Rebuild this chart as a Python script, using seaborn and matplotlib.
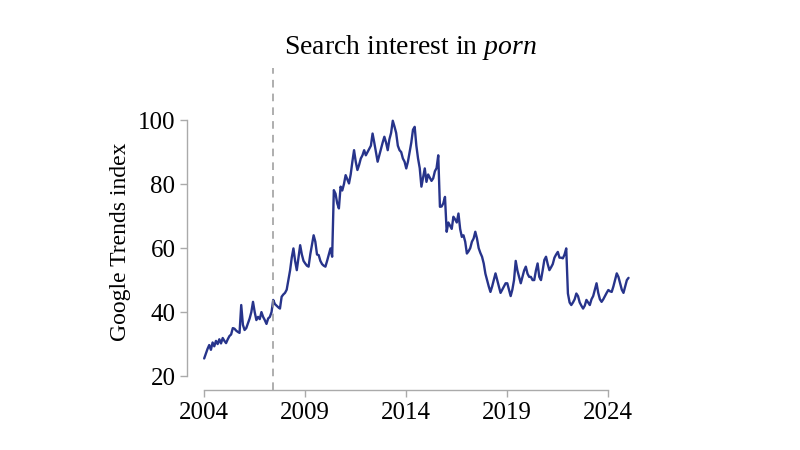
import numpy as np
import pandas as pd
import seaborn as sns
import matplotlib.pyplot as plt

# Monthly Google Trends index, Jan 2004 - Jan 2025
interest = [
    25.5, 27.0, 28.5, 29.7, 28.2, 30.5, 29.3, 31.0, 30.0, 31.5, 30.2, 31.9,  # 2004
    31.0, 30.3, 31.5, 32.5, 33.0, 35.0, 34.8, 34.2, 33.8, 33.5, 42.2, 36.0,  # 2005
    34.4, 35.0, 36.5, 38.0, 40.0, 43.2, 40.0, 37.5, 38.5, 37.8, 40.0, 38.5,  # 2006
    37.5, 36.3, 38.0, 38.5, 40.0, 43.8, 42.5, 42.0, 41.5, 41.1, 44.8, 45.5,  # 2007
    46.0, 47.0, 50.0, 53.0, 57.0, 59.9, 56.0, 53.1, 57.0, 60.9, 58.0, 56.0,  # 2008
    55.2, 54.5, 54.2, 58.0, 61.0, 64.0, 62.0, 58.0, 57.8, 56.0, 55.0, 54.5,  # 2009
    54.2, 56.0, 58.0, 59.9, 57.3, 78.1, 77.0, 74.0, 72.4, 79.2, 78.0, 80.0,  # 2010
    82.8, 81.5, 80.2, 83.0, 87.0, 90.6, 87.0, 84.4, 86.0, 88.0, 89.0, 90.6,  # 2011
    89.0, 90.0, 91.0, 92.0, 95.8, 93.0, 90.0, 87.0, 89.0, 91.0, 93.0, 94.8,  # 2012
    93.0, 90.6, 94.0, 96.0, 99.8, 98.0, 96.0, 92.0, 90.6, 90.0, 88.0, 87.0,  # 2013
    84.9, 87.0, 90.0, 93.0, 97.0, 97.9, 92.0, 88.0, 85.0, 79.2, 82.0, 84.9,  # 2014
    80.7, 83.0, 82.0, 81.0, 81.8, 84.0, 85.0, 89.0, 72.9, 73.0, 74.0, 76.0,  # 2015
    65.1, 68.0, 67.0, 66.0, 69.8, 69.0, 68.0, 70.8, 66.0, 63.5, 64.0, 62.0,  # 2016
    58.3, 59.0, 60.0, 62.0, 63.0, 65.1, 63.0, 60.0, 58.5, 57.3, 55.2, 52.0,  # 2017
    50.0, 48.0, 46.3, 48.0, 50.0, 52.1, 50.0, 48.0, 46.0, 47.0, 48.0, 49.0,  # 2018
    49.0, 47.0, 45.0, 47.0, 50.0, 56.0, 53.0, 51.0, 49.0, 51.0, 53.0, 54.2,  # 2019
    52.0, 51.0, 51.0, 50.0, 50.0, 53.0, 55.2, 51.0, 50.0, 53.0, 56.3, 57.3,  # 2020
    55.0, 53.1, 54.0, 55.0, 57.0, 58.0, 58.8, 57.0, 57.0, 56.8, 58.0, 59.9,  # 2021
    45.8, 43.0, 42.2, 43.0, 44.0, 45.8, 45.0, 43.0, 42.0, 41.1, 42.0, 43.8,  # 2022
    43.0, 42.2, 44.0, 45.0, 47.0, 49.0, 46.0, 44.0, 43.2, 44.0, 45.0, 46.0,  # 2023
    46.9, 46.5, 46.3, 48.0, 50.0, 52.1, 51.0, 49.0, 47.0, 46.0, 48.0, 50.0,  # 2024
    50.7,                                                                    # 2025
]
start_year = 2004
year_ticks = [2004, 2009, 2014, 2019, 2024]
index_ticks = [20, 40, 60, 80, 100]
event_year = 2007.4  # dashed marker

df = pd.DataFrame({
    "year": start_year + np.arange(len(interest)) / 12,
    "interest": interest,
})

sns.set_theme(style="ticks")
plt.rcParams["font.family"] = ["Liberation Serif", "DejaVu Serif"]
plt.rcParams["text.color"] = "black"
plt.rcParams["axes.labelcolor"] = "black"
plt.rcParams["mathtext.fontset"] = "custom"
plt.rcParams["mathtext.rm"] = "Liberation Serif"
plt.rcParams["mathtext.it"] = "Liberation Serif:italic"

fig = plt.figure(figsize=(8, 4.5), dpi=100)
ax = fig.add_axes([0.234, 0.133, 0.559, 0.716])

sns.lineplot(data=df, x="year", y="interest", color="#27348b", linewidth=1.7, ax=ax)
ax.axvline(event_year, color="#999999", linestyle=(0, (5, 4)), linewidth=1.1)

ax.set_xlim(2003.16, 2025.29)
ax.set_ylim(15.6, 116.3)
ax.set_xticks(year_ticks)
ax.set_yticks(index_ticks)

for side in ["top", "right"]:
    ax.spines[side].set_visible(False)
ax.spines["bottom"].set_bounds(year_ticks[0], year_ticks[-1])
ax.spines["left"].set_bounds(index_ticks[0], index_ticks[-1])
for side in ["bottom", "left"]:
    ax.spines[side].set_color("#aaaaaa")
    ax.spines[side].set_linewidth(1.0)
ax.tick_params(colors="#aaaaaa", labelcolor="black", labelsize=18, length=5, width=1.0)

ax.set_xlabel("")
ax.set_ylabel("Google Trends index", fontsize=17)
ax.yaxis.set_label_coords(-0.125, 0.46)
ax.set_title("Search interest in $\\mathit{porn}$", fontsize=20, pad=10)

plt.savefig("out.png", dpi=100)
